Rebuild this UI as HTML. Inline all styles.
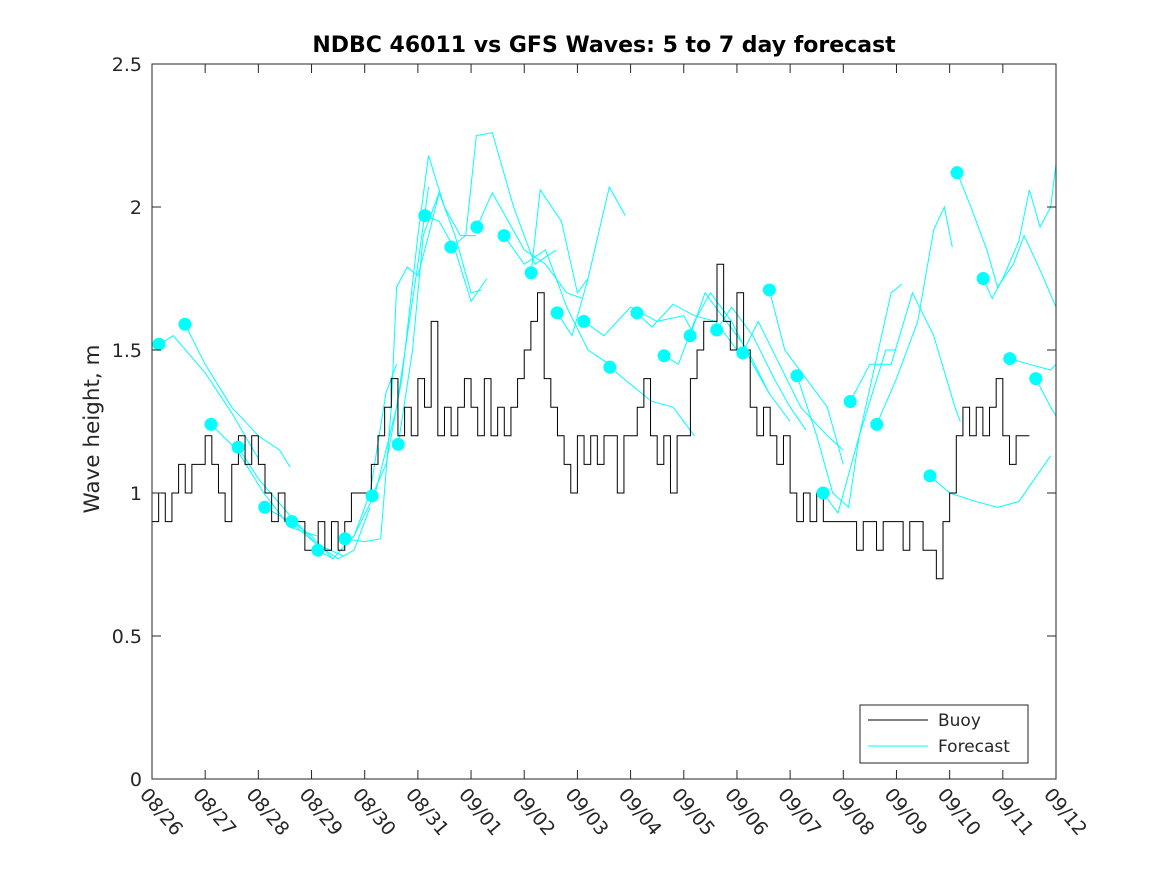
<!DOCTYPE html>
<html><head><meta charset="utf-8"><style>
body{margin:0;background:#fff;font-family:"Liberation Sans","DejaVu Sans",sans-serif}
</style></head><body>
<svg id="chart" width="1167" height="875" xmlns="http://www.w3.org/2000/svg" font-family="DejaVu Sans, Liberation Sans, sans-serif">
<rect width="1167" height="875" fill="#fff"/>
<text x="604" y="52" text-anchor="middle" font-size="22" font-weight="bold" fill="#000">NDBC 46011 vs GFS Waves: 5 to 7 day forecast</text>
<text transform="translate(99,429) rotate(-90)" text-anchor="middle" font-size="21.5" fill="#262626">Wave height, m</text>
<g id="plot"></g>
<rect x="152" y="64" width="904" height="715" fill="none" stroke="#262626" stroke-width="1"/>
<g>
<rect x="860" y="705" width="168" height="58" fill="#fff" stroke="#262626"/>
<line x1="868" y1="720" x2="928" y2="720" stroke="#000"/>
<text x="938" y="726" font-size="17" fill="#262626">Buoy</text>
<line x1="868" y1="746" x2="928" y2="746" stroke="#00ffff"/>
<text x="938" y="752" font-size="17" fill="#262626">Forecast</text>
</g>
</svg>
<script>
const xLabels=["08/26","08/27","08/28","08/29","08/30","08/31","09/01","09/02","09/03","09/04","09/05","09/06","09/07","09/08","09/09","09/10","09/11","09/12"];
const yTicks=[0,0.5,1,1.5,2,2.5];
const buoy=[0.9,1.0,0.9,1.0,1.1,1.0,1.1,1.1, 1.2,1.1,1.0,0.9,1.1,1.2,1.1,1.2, 1.1,1.0,0.9,1.0,0.9,0.9,0.9,0.8, 0.8,0.9,0.8,0.9,0.8,0.9,1.0,1.0, 1.0,1.1,1.2,1.3,1.4,1.2,1.3,1.2, 1.4,1.3,1.6,1.2,1.3,1.2,1.3,1.4, 1.3,1.2,1.4,1.2,1.3,1.2,1.3,1.4, 1.5,1.6,1.7,1.4,1.3,1.2,1.1,1.0, 1.2,1.1,1.2,1.1,1.2,1.2,1.0,1.2, 1.2,1.3,1.4,1.2,1.1,1.2,1.0,1.2, 1.2,1.4,1.5,1.6,1.6,1.8,1.6,1.5, 1.7,1.5,1.3,1.2,1.3,1.2,1.1,1.2, 1.0,0.9,1.0,0.9,1.0,0.9,0.9,0.9, 0.9,0.9,0.8,0.9,0.9,0.8,0.9,0.9, 0.9,0.8,0.9,0.9,0.8,0.8,0.7,0.9, 1.0,1.2,1.3,1.2,1.3,1.2,1.3,1.4, 1.2,1.1,1.2,1.2];
const buoyStep=0.125;
const fcDays=[
[0.13,0.4,1.0,1.5,2.0],[0.62,1.0,1.5,2.0,2.4,2.6],[1.11,1.6,2.1,2.6,3.1],[1.62,2.0,2.6,3.1,3.6],
[2.12,2.6,3.1,3.5,3.8,4.1],[2.63,3.0,3.4,3.8,4.1,4.4,4.6],[3.12,3.4,3.8,4.2,4.6,5.0,5.2],[3.63,4.0,4.3,4.5,4.6,4.8,5.0,5.2,5.4],
[4.14,4.4,4.7,5.0,5.2,5.5,5.8,6.1],[4.63,4.9,5.1,5.4,5.7,6.0,6.2],[5.13,5.4,5.7,6.0,6.3],[5.62,5.9,6.1,6.4,6.8,7.2,7.6],
[6.11,6.4,6.7,7.0,7.4,7.8,8.1],[6.62,7.0,7.4,7.8,8.2,8.6],[7.13,7.3,7.7,8.0,8.2],[7.62,7.9,8.2,8.6,8.9],
[8.12,8.5,9.0,9.5,10.0,10.2],[8.61,9.0,9.4,9.8,10.2],[9.12,9.4,9.8,10.2,10.6,11.0],[9.63,9.9,10.2,10.5,10.9,11.3,11.6],
[10.12,10.4,10.8,11.2,11.6,12.0],[10.62,10.9,11.3,11.7,12.0,12.3],[11.11,11.4,11.8,12.2,12.7,13.0],[11.61,11.9,12.3,12.7,13.0],
[12.13,12.5,12.8,13.1,13.3,13.8,14.0],[12.62,12.9,13.3,13.6,13.9,14.1],[13.13,13.5,13.9,14.3,14.7,15.1,15.2],[13.63,14.0,14.4,14.7,14.9,15.05],
[14.63,15.0,15.5,15.9,16.3,16.6,16.9],[15.14,15.4,15.7,15.9,16.2,16.4,16.7,17.0],[15.63,15.8,16.0,16.3,16.5,16.7,16.9,17.0],[16.13,16.5,16.9,17.0],[16.62,16.9,17.0]];
const fcVals=[
[1.52,1.55,1.42,1.28,1.12],[1.59,1.45,1.3,1.2,1.15,1.09],[1.24,1.15,1.0,0.88,0.85],[1.16,1.05,0.92,0.82,0.78],
[0.95,0.9,0.82,0.77,0.8,0.95],[0.90,0.85,0.77,0.85,1.0,1.35,1.45],[0.80,0.77,0.85,1.0,1.3,1.8,2.07],[0.84,0.83,0.84,1.3,1.72,1.79,1.76,1.9,2.05],
[0.99,1.1,1.4,1.9,2.18,2.0,1.9,1.9],[1.17,1.5,1.9,2.05,1.9,1.7,1.71],[1.97,1.95,1.85,1.67,1.75],[1.86,1.9,2.25,2.26,2.0,1.8,1.85],
[1.93,2.05,1.95,1.85,1.8,1.7,1.68],[1.90,1.8,1.85,1.65,1.5,1.45],[1.77,2.06,1.95,1.7,1.75],[1.63,1.55,1.75,2.07,1.97],
[1.60,1.55,1.65,1.6,1.62,1.55],[1.44,1.38,1.32,1.3,1.2],[1.63,1.58,1.66,1.62,1.6,1.5],[1.48,1.45,1.6,1.7,1.6,1.45,1.35],
[1.55,1.7,1.6,1.5,1.35,1.25],[1.57,1.65,1.55,1.4,1.3,1.22],[1.49,1.6,1.45,1.3,1.2,1.15],[1.71,1.5,1.4,1.3,1.1],
[1.41,1.2,1.0,0.95,1.2,1.5,1.5],[1.00,0.93,1.2,1.45,1.7,1.73],[1.32,1.45,1.45,1.7,1.55,1.3,1.25],[1.24,1.4,1.6,1.92,2.0,1.86],
[1.06,1.0,0.97,0.95,0.97,1.05,1.13],[2.12,2.0,1.85,1.72,1.8,1.9,1.78,1.65],[1.75,1.68,1.75,1.88,2.06,1.93,2.0,2.15],[1.47,1.45,1.43,1.45],[1.40,1.3,1.27]];
const X0=152,X1=1056,Y0=779,Y1=64;
const xs=d=>X0+(X1-X0)*d/17;
const ys=v=>Y0-(Y0-Y1)*v/2.5;
const NS="http://www.w3.org/2000/svg";
const svg=document.getElementById('chart');
const plot=document.getElementById('plot');
function mk(t,a,p){const e=document.createElementNS(NS,t);for(const k in a)e.setAttribute(k,a[k]);(p||svg).appendChild(e);return e;}
yTicks.forEach(v=>{
 const y=ys(v);
 mk('line',{x1:X0,y1:y,x2:X0+9,y2:y,stroke:'#262626'});
 mk('line',{x1:X1-9,y1:y,x2:X1,y2:y,stroke:'#262626'});
 const t=mk('text',{x:X0-10,y:y+7,'text-anchor':'end','font-size':'19',fill:'#262626'});
 
 
 t.textContent=String(v);
});
xLabels.forEach((s,i)=>{
 const x=xs(i);
 mk('line',{x1:x,y1:Y0,x2:x,y2:Y0-9,stroke:'#262626'});
 mk('line',{x1:x,y1:Y1,x2:x,y2:Y1+9,stroke:'#262626'});
 const t=mk('text',{transform:`translate(${x-13},${Y0+16}) rotate(50)`,'font-size':'19',fill:'#262626'});
 
 
 t.textContent=s;
});
fcDays.forEach((ds,i)=>{
 const pts=ds.map((d,j)=>xs(d)+','+ys(fcVals[i][j])).join(' ');
 const l=mk('polyline',{points:pts,fill:'none',stroke:'#00ffff','stroke-width':'1'},plot);
 
 
});
let p='';
buoy.forEach((v,i)=>{const x=xs(i*buoyStep),x2=xs((i+1)*buoyStep),y=ys(v);p+=(i?'L':'M')+x+','+y+'L'+x2+','+y;});
const b=mk('path',{d:p,fill:'none',stroke:'#000','stroke-width':'1'},plot);


fcDays.forEach((ds,i)=>{
 const c=mk('circle',{cx:xs(ds[0]),cy:ys(fcVals[i][0]),r:6.5,fill:'#00ffff'},plot);
 
 
});
</script>
</body></html>
